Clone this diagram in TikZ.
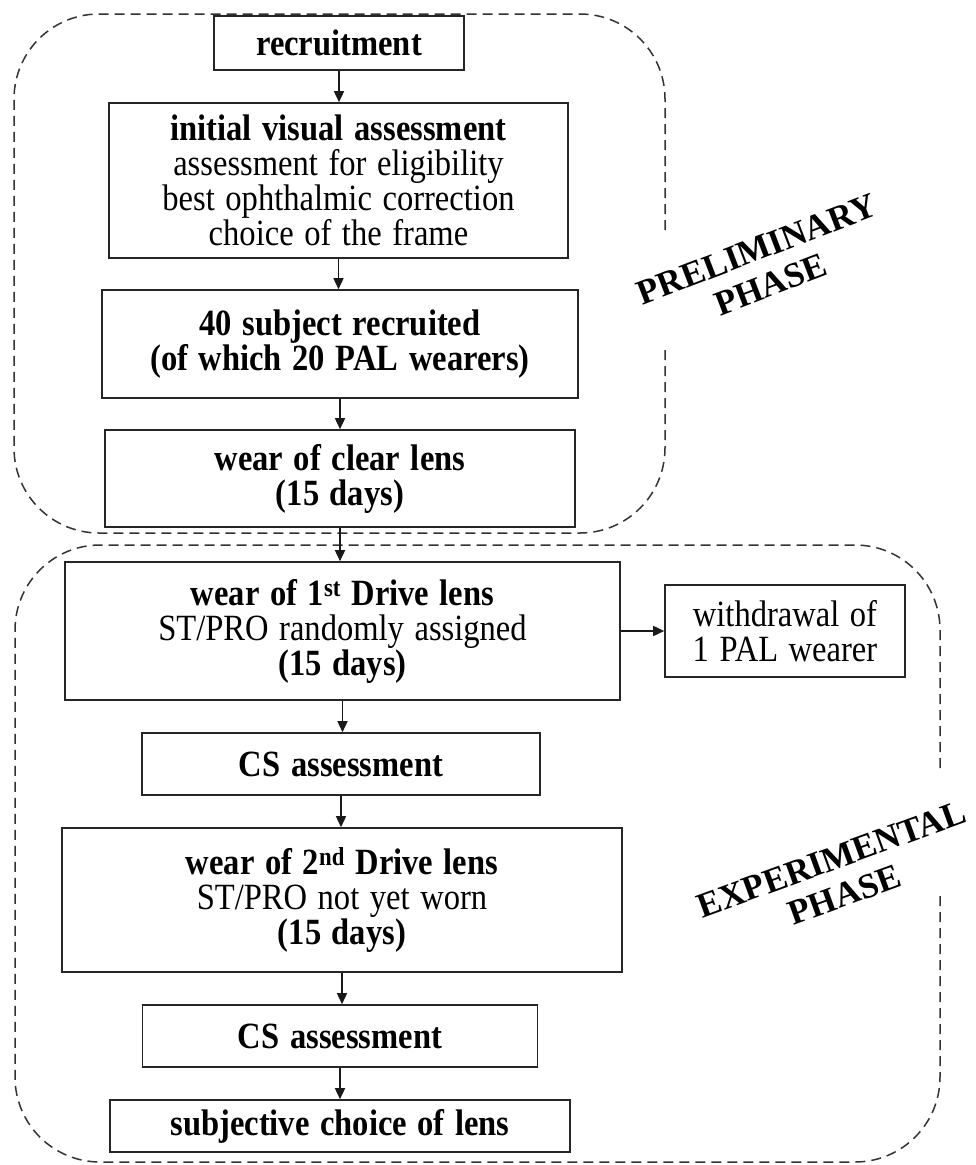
\documentclass[tikz,border=0pt]{standalone}
\usepackage{fontspec}
\setmainfont{Liberation Serif}[FakeStretch=0.88, WordSpace=1.3]
\newfontfamily\phasefont{Liberation Serif}
\usetikzlibrary{arrows.meta}
\begin{document}
\begin{tikzpicture}[x=1pt,y=-1pt]
\tikzstyle{every node}=[font=\fontsize{37}{35}\selectfont, align=center, inner sep=0pt]
\tikzstyle{box}=[draw=black!85, line width=1.6pt]
\tikzstyle{arr}=[-{Triangle[length=11pt,width=10pt]}, line width=1.5pt, black!90]
\tikzstyle{region}=[draw=black!80, line width=1.5pt, dash pattern=on 10pt off 6pt, rounded corners=85pt]
\tikzstyle{phase}=[font=\phasefont\bfseries\fontsize{35}{38}\selectfont]
\useasboundingbox (0,0) rectangle (975,1165);

% phase regions
\draw[region] (665,230) -- (665,14) -- (14,14) -- (14,533) -- (665,533) -- (665,348);
\draw[region] (940,768) -- (940,545) -- (15,545) -- (15,1162) -- (940,1162) -- (940,893);

% preliminary phase
\node[box, minimum width=250, minimum height=54] (rec) at (339,43) {\textbf{recruitment}};
\node[box, minimum width=459, minimum height=155] (ini) at (338.5,180.5)
  {\textbf{initial visual assessment}\\assessment for eligibility\\best ophthalmic correction\\choice of the frame};
\node[box, minimum width=476, minimum height=108] (subj) at (340,344)
  {\textbf{40 subject recruited}\\\textbf{(of which 20 PAL wearers)}};
\node[box, minimum width=470, minimum height=97] (clear) at (340,478.5)
  {\textbf{wear of clear lens}\\\textbf{(15 days)}};

% experimental phase
\node[box, minimum width=555, minimum height=138] (drive1) at (342.5,631)
  {\textbf{wear of 1\textsuperscript{st} Drive lens}\\ST/PRO randomly assigned\\\textbf{(15 days)}};
\node[box, minimum width=240, minimum height=92] (wd) at (785,631) {withdrawal of\\1 PAL wearer};
\node[box, minimum width=398, minimum height=62] (cs1) at (341,764) {\textbf{CS assessment}};
\node[box, minimum width=560, minimum height=144] (drive2) at (342,900)
  {\textbf{wear of 2\textsuperscript{nd} Drive lens}\\ST/PRO not yet worn\\\textbf{(15 days)}};
\node[box, minimum width=395, minimum height=62] (cs2) at (340,1036) {\textbf{CS assessment}};
\node[box, minimum width=460, minimum height=52] (choice) at (340,1126) {\textbf{subjective choice of lens}};

% labels
\node[phase, rotate=21] (prelim) at (764,267) {PRELIMINARY\\PHASE};
\node[phase, rotate=20] (exper) at (838,877) {EXPERIMENTAL\\PHASE};

% arrows
\draw[arr] (rec) -- (rec |- ini.north);
\draw[arr] (ini) -- (ini |- subj.north);
\draw[arr] (subj) -- (subj |- clear.north);
\draw[arr] (clear) -- (clear |- drive1.north);
\draw[arr] (drive1) -- (drive1 |- cs1.north);
\draw[arr] (cs1) -- (cs1 |- drive2.north);
\draw[arr] (drive2) -- (drive2 |- cs2.north);
\draw[arr] (cs2) -- (cs2 |- choice.north);
\draw[arr] (drive1) -- (wd);
\end{tikzpicture}
\end{document}
